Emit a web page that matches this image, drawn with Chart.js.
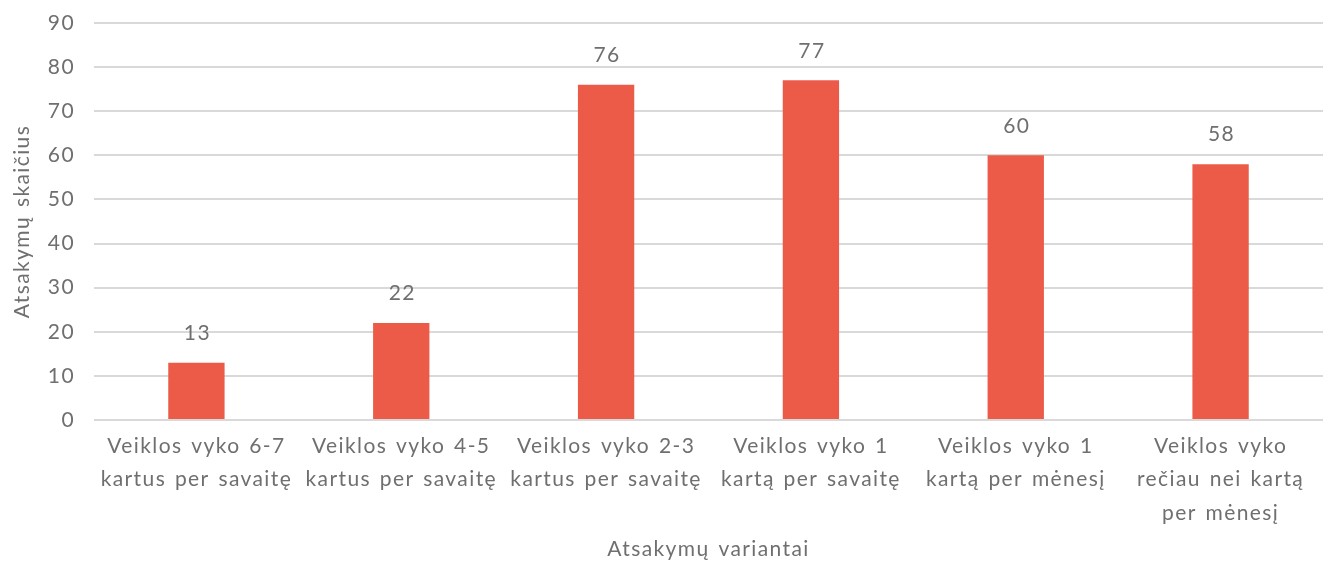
<!DOCTYPE html>
<html><head><meta charset="utf-8">
<script src="https://cdn.jsdelivr.net/npm/chart.js@4/dist/chart.umd.min.js"></script>
<style>html,body{margin:0;padding:0;background:#fff}#wrap{width:1331px;height:562px}</style>
</head><body><div id="wrap"><canvas id="c" width="1331" height="562"></canvas></div>
<script>
const categories = [
  ["Veiklos vyko 6-7", "kartus per savaitę"],
  ["Veiklos vyko 4-5", "kartus per savaitę"],
  ["Veiklos vyko 2-3", "kartus per savaitę"],
  ["Veiklos vyko 1", "kartą per savaitę"],
  ["Veiklos vyko 1", "kartą per mėnesį"],
  ["Veiklos vyko", "rečiau nei kartą", "per mėnesį"]
];
const values = [13, 22, 76, 77, 60, 58];
const yTicks = [0, 10, 20, 30, 40, 50, 60, 70, 80, 90];
const xTitle = "Atsakymų variantai";
const yTitle = "Atsakymų skaičius";

const FONT = "Lato, 'Open Sans', sans-serif";
const TXT = "#6f6f6f";
const SPACING = '1.4px';
const WSPACING = '2px';

const spacing = {
  id: 'spacing',
  beforeLayout(chart) { chart.ctx.letterSpacing = SPACING; chart.ctx.wordSpacing = WSPACING; },
  beforeDraw(chart) { chart.ctx.letterSpacing = SPACING; chart.ctx.wordSpacing = WSPACING; }
};

const valueLabels = {
  id: 'valueLabels',
  afterDatasetsDraw(chart) {
    const ctx = chart.ctx;
    const meta = chart.getDatasetMeta(0);
    ctx.save();
    ctx.letterSpacing = SPACING;
    ctx.font = "21px " + FONT;
    ctx.fillStyle = TXT;
    ctx.textAlign = 'center';
    ctx.textBaseline = 'bottom';
    meta.data.forEach((bar, i) => {
      ctx.fillText(String(values[i]), bar.x + 1, bar.y - 19);
    });
    ctx.restore();
  }
};

new Chart(document.getElementById('c'), {
  type: 'bar',
  data: {
    labels: categories,
    datasets: [{
      data: values,
      backgroundColor: '#EB5B48',
      barPercentage: 0.275,
      categoryPercentage: 1.0
    }]
  },
  options: {
    responsive: false,
    animation: false,
    layout: { padding: { top: 23, right: 8, left: 10, bottom: 0 } },
    plugins: { legend: { display: false }, tooltip: { enabled: false } },
    scales: {
      x: {
        grid: { display: false, drawTicks: false },
        border: { display: false },
        ticks: { color: TXT, font: { family: FONT, size: 21, lineHeight: 1.6 }, padding: 9, maxRotation: 0, autoSkip: false },
        title: { display: true, text: xTitle, color: TXT, font: { family: FONT, size: 21 }, padding: { top: 0, bottom: 0 } },
        afterFit(s) { s.height = 142; s.paddingLeft = 0; s.paddingRight = 0; }
      },
      y: {
        min: 0, max: 90,
        afterBuildTicks(s) { s.ticks = yTicks.map(v => ({ value: v })); },
        grid: { color: '#d9d9d9', lineWidth: 2, drawTicks: false },
        border: { display: false },
        ticks: { color: TXT, font: { family: FONT, size: 21 }, padding: 19 },
        title: { display: true, text: yTitle, color: TXT, font: { family: FONT, size: 21 }, padding: { top: 0, bottom: 4 } },
        afterFit(s) { s.width = 84; s.paddingTop = 0; s.paddingBottom = 0; }
      }
    }
  },
  plugins: [spacing, valueLabels]
});
</script>
</body></html>
